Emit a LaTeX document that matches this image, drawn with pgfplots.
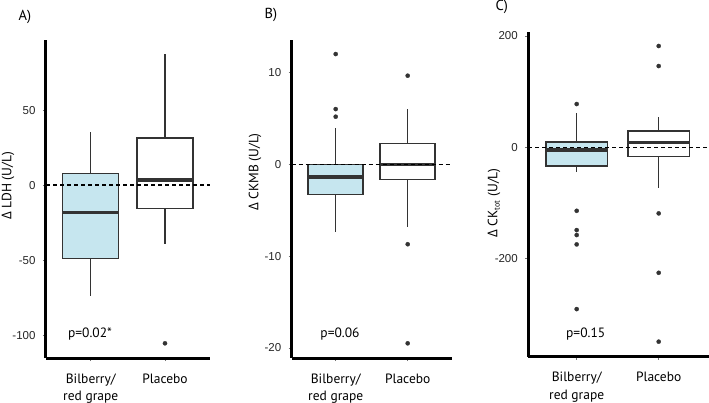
\documentclass[border=0pt]{standalone}
\usepackage{fontspec}
\setmainfont{PT Sans}
\newfontfamily\grfont{Open Sans}
\newfontfamily\tickfont{Liberation Sans}
\usepackage{pgfplots}
\usepgfplotslibrary{statistics}
\pgfplotsset{compat=1.18}

\definecolor{boxblue}{HTML}{C6E6EF}
\definecolor{boxline}{HTML}{333333}

\pgfplotsset{
  panel/.style={
    scale only axis, clip=false,
    axis x line*=bottom, axis y line*=left,
    axis line style={-, line width=3pt, black},
    tick align=outside, major tick length=3pt,
    tick style={black!55, line width=0.7pt},
    xtick={1,2},
    xticklabels={{Bilberry/\\red grape}, Placebo},
    x tick label style={align=center, font=\fontsize{13.5}{17.5}\selectfont, yshift=-9pt},
    y tick label style={font=\tickfont\fontsize{11.5}{11.5}\selectfont, text=black!85, xshift=-4pt},
    /pgf/number format/assume math mode=true,
    boxplot/draw direction=y,
    boxplot/whisker extend=0,
    boxplot/every box/.style={draw=boxline, line width=1.5pt},
    boxplot/every whisker/.style={draw=boxline, line width=1.4pt},
    boxplot/every median/.style={draw=boxline, line width=3.3pt},
  },
  gbox/.style={fill=boxblue, draw=boxline, mark=*, mark size=2.1pt,
    mark options={fill=boxline, draw=boxline, line width=0.3pt}},
  pbox/.style={fill=white, draw=boxline, mark=*, mark size=2.1pt,
    mark options={fill=boxline, draw=boxline, line width=0.3pt}},
  zero/.style={black, line width=1.4pt, dash pattern=on 4pt off 3pt, mark=none},
}

\begin{document}
\begin{tikzpicture}[x=1pt, y=1pt]
\useasboundingbox (0,0) rectangle (709pt,-403pt);

% A) LDH
\begin{axis}[panel, at={(46pt,-358pt)}, anchor=south west,
  width=164pt, height=318pt,
  xmin=0.398, xmax=2.606, ymin=-115.3, ymax=96.7,
  ytick={-100,-50,0,50}]
\addplot[gbox, boxplot prepared={draw position=1, box extend=0.754,
  lower whisker=-73.8, lower quartile=-48.9, median=-18.2,
  upper quartile=7.8, upper whisker=35.5}] coordinates {};
\addplot[pbox, boxplot prepared={draw position=2, box extend=0.754,
  lower whisker=-39.6, lower quartile=-15.5, median=3.3,
  upper quartile=31.5, upper whisker=87.3}]
  table[row sep=\\, y index=0] {y\\ -105.5\\};
\addplot[zero] coordinates {(0.398,0) (2.606,0)};
\node[font=\fontsize{13.5}{15}\selectfont] at (axis cs:0.99,-99.3) {p=0.02*};
\end{axis}

% B) CKMB
\begin{axis}[panel, at={(291.7pt,-358pt)}, anchor=south west,
  width=160pt, height=318pt,
  xmin=0.389, xmax=2.611, ymin=-21.1, ymax=13.56,
  ytick={-20,-10,0,10}]
\addplot[gbox, boxplot prepared={draw position=1, box extend=0.764,
  lower whisker=-7.4, lower quartile=-3.3, median=-1.38,
  upper quartile=0, upper whisker=4.0}]
  table[row sep=\\, y index=0] {y\\ 12.03\\ 6.03\\ 5.2\\};
\addplot[pbox, boxplot prepared={draw position=2, box extend=0.764,
  lower whisker=-6.8, lower quartile=-1.64, median=0,
  upper quartile=2.3, upper whisker=6.03}]
  table[row sep=\\, y index=0] {y\\ 9.67\\ -8.7\\ -19.5\\};
\addplot[zero] coordinates {(0.389,0) (2.611,0)};
\node[font=\fontsize{13.5}{15}\selectfont] at (axis cs:1.06,-18.5) {p=0.06};
\end{axis}

% C) CK total
\begin{axis}[panel, at={(528.3pt,-356.7pt)}, anchor=south west,
  width=183.7pt, height=325pt,
  xmin=0.41, xmax=2.65, ymin=-376, ymax=207.7,
  ytick={-200,0,200}]
\addplot[gbox, boxplot prepared={draw position=1, box extend=0.752,
  lower whisker=-45, lower quartile=-33.6, median=-4.8,
  upper quartile=10, upper whisker=62.2}]
  table[row sep=\\, y index=0] {y\\ 77.8\\ -114\\ -148.6\\ -157.5\\ -174.3\\ -290.5\\};
\addplot[pbox, boxplot prepared={draw position=2, box extend=0.752,
  lower whisker=-73.6, lower quartile=-16.2, median=9,
  upper quartile=29.8, upper whisker=53.9}]
  table[row sep=\\, y index=0] {y\\ 182\\ 146\\ -118.6\\ -225.3\\ -349\\};
\addplot[zero] coordinates {(0.41,0) (2.65,0)};
\node[font=\fontsize{13.5}{15}\selectfont] at (axis cs:1.11,-335.4) {p=0.15};
\end{axis}

% panel letters
\node[font=\fontsize{14.5}{16}\selectfont] at (25pt,-17pt) {A)};
\node[font=\fontsize{14.5}{16}\selectfont] at (271pt,-15pt) {B)};
\node[font=\fontsize{14.5}{16}\selectfont] at (501.7pt,-7pt) {C)};

% y axis titles
\node[rotate=90, font=\fontsize{13.5}{15}\selectfont] at (8pt,-186pt) {{\grfont Δ} LDH (U/L)};
\node[rotate=90, font=\fontsize{13.5}{15}\selectfont] at (255pt,-172pt) {{\grfont Δ} CKMB (U/L)};
\node[rotate=90, font=\fontsize{13.5}{15}\selectfont] at (494pt,-203pt) {{\grfont Δ} CK\textsubscript{\fontsize{8}{8}\selectfont tot} (U/L)};
\end{tikzpicture}
\end{document}
